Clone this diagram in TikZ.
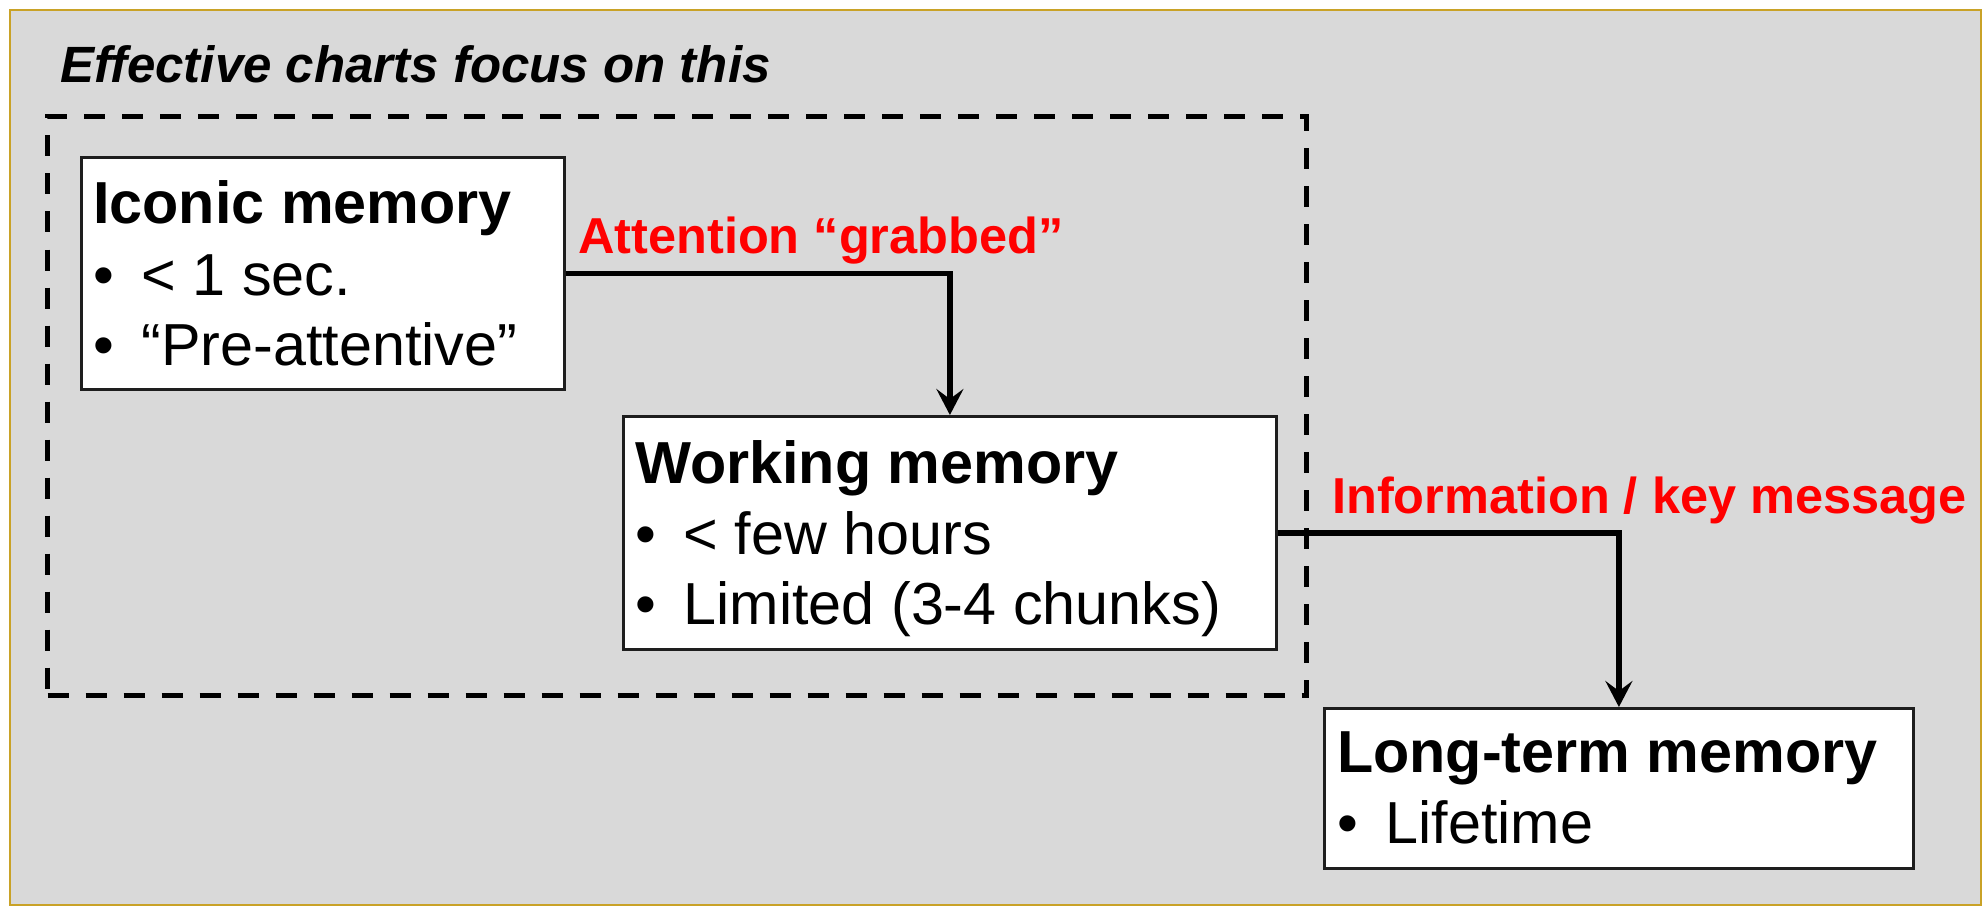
\documentclass[tikz,border=0pt]{standalone}
\usepackage{fontspec}
\setmainfont{Liberation Sans}
\usetikzlibrary{arrows.meta}

\definecolor{panelgray}{RGB}{217,217,217}
\definecolor{framegold}{RGB}{201,162,39}
\definecolor{labelred}{RGB}{255,0,0}
\definecolor{boxline}{RGB}{30,30,30}

% bullet followed by a fixed indent before the item text
\newcommand\membullet{\makebox[48.5bp][l]{•}}

\begin{document}
\begin{tikzpicture}[x=1bp,y=-1bp,
  membox/.style={draw=boxline, line width=2.8bp, fill=white, rectangle,
    inner sep=0pt, anchor=north west},
  focusframe/.style={draw=black, line width=5bp, dash pattern=on 21bp off 17bp,
    rectangle, inner sep=0pt, anchor=north west},
  boxhead/.style={anchor=base west, inner sep=0pt,
    font=\fontsize{59.3bp}{71bp}\selectfont\bfseries},
  boxitem/.style={anchor=base west, inner sep=0pt,
    font=\fontsize{59.3bp}{71bp}\selectfont},
  flowlabel/.style={anchor=base west, inner sep=0pt, text=labelred,
    font=\fontsize{50.5bp}{60bp}\selectfont\bfseries},
  heading/.style={anchor=base west, inner sep=0pt,
    font=\fontsize{51bp}{60bp}\selectfont\bfseries\itshape},
  conn/.style={draw=black, line width=5.5bp,
    -{Stealth[length=26bp,width=27bp,inset=10bp]}},
]
% page and panel
\path[use as bounding box] (0,0) rectangle (1984,906);
\fill[white] (0,0) rectangle (1984,906);
\draw[framegold, line width=2bp, fill=panelgray] (10,10) rectangle (1981,905);

% heading and the dashed focus region
\node[heading] (head) at (60,82) {Effective charts focus on this};
\node[focusframe, minimum width=1259bp, minimum height=579bp] (focus) at (45,114) {};

% memory stages
\node[membox, minimum width=483bp, minimum height=232bp] (iconic) at (80,156) {};
\node[boxhead] (iconicT) at (93,223) {Iconic memory};
\node[boxitem] (iconicA) at (93,295) {\membullet< 1 sec.};
\node[boxitem] (iconicB) at (93,365) {\membullet“Pre-attentive”};

\node[membox, minimum width=653bp, minimum height=233bp] (working) at (622,415) {};
\node[boxhead] (workingT) at (635,483) {Working memory};
\node[boxitem] (workingA) at (635,554) {\membullet< few hours};
\node[boxitem] (workingB) at (635,624) {\membullet Limited (3-4 chunks)};

\node[membox, minimum width=589bp, minimum height=160bp] (longterm) at (1323,707) {};
\node[boxhead] (longtermT) at (1337,772) {Long-term memory};
\node[boxitem] (longtermA) at (1337,843) {\membullet Lifetime};

% transitions
\draw[conn] (iconic.east) -| (working.north);
\node[flowlabel] (grab) at (578,253) {Attention “grabbed”};

\draw[conn] (working.east) -| (longterm.north);
\node[flowlabel] (info) at (1332,513) {Information / key message};
\end{tikzpicture}
\end{document}
